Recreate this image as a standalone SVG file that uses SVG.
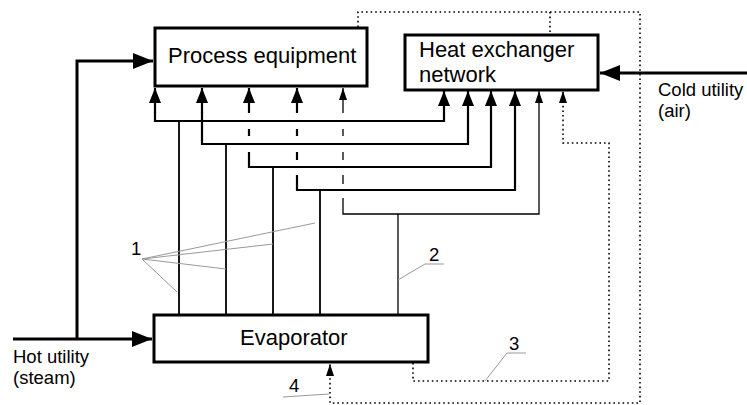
<svg xmlns="http://www.w3.org/2000/svg" width="747" height="405" viewBox="0 0 747 405">
<style>
.box{fill:#fff;stroke:#000;stroke-width:3}
.lbl{font-family:"Liberation Sans",Arial,sans-serif;font-size:22px;fill:#000}
.sm{font-family:"Liberation Sans",Arial,sans-serif;font-size:18.5px;fill:#000}
.c{fill:none;stroke:#000;stroke-width:2.2}
.v{fill:none;stroke:#000;stroke-width:1.8}
.t{fill:none;stroke:#000;stroke-width:1.3}
.d{fill:none;stroke:#000;stroke-width:1.6;stroke-dasharray:1.6 3}
.u{fill:none;stroke:#000;stroke-width:3}
.ld{fill:none;stroke:#999;stroke-width:1}
</style>
<defs>
<marker id="big" markerUnits="userSpaceOnUse" viewBox="0 0 20 16" markerWidth="20" markerHeight="16" refX="20" refY="8" orient="auto"><path d="M0,0 L20,8 L0,16 z" fill="#000"/></marker>
<marker id="arr" markerUnits="userSpaceOnUse" viewBox="0 0 15 12" markerWidth="15" markerHeight="12" refX="15" refY="6" orient="auto"><path d="M0,0 L15,6 L0,12 z" fill="#000"/></marker>
<marker id="sml" markerUnits="userSpaceOnUse" viewBox="0 0 12 8" markerWidth="12" markerHeight="8" refX="12" refY="4" orient="auto"><path d="M0,0 L12,4 L0,8 z" fill="#000"/></marker>
</defs>
<g id="connectors">
<!-- utilities -->
<path class="u" d="M13,339 H152" marker-end="url(#big)"/>
<path class="u" d="M77,339 V61 H153" marker-end="url(#big)"/>
<path class="u" d="M747,73 H600" marker-end="url(#big)"/>
<!-- stream 1 -->
<path class="c" d="M155,113 V88" marker-end="url(#arr)"/>
<path class="c" d="M155,112 V121 H444 V91" marker-end="url(#arr)"/>
<path class="v" d="M179,121 V314"/>
<!-- stream 2 -->
<path class="c" d="M202,113 V88" marker-end="url(#arr)"/>
<path class="c" d="M202,112 V144 H468 V91" marker-end="url(#arr)"/>
<path class="v" d="M226,144 V314"/>
<!-- stream 3 -->
<path class="c" d="M249,113 V88" marker-end="url(#arr)"/>
<path class="c" d="M249,129 V136"/>
<path class="c" d="M249,152 V167 H491 V91" marker-end="url(#arr)"/>
<path class="v" d="M273,167 V314"/>
<!-- stream 4 -->
<path class="c" d="M297,113 V88" marker-end="url(#arr)"/>
<path class="c" d="M297,129 V136 M297,152 V160"/>
<path class="c" d="M297,175 V190 H515 V91" marker-end="url(#arr)"/>
<path class="v" d="M320,190 V314"/>
<!-- stream 5 (thin) -->
<path class="t" d="M343,113 V88" marker-end="url(#sml)"/>
<path class="t" d="M343,129 V136 M343,152 V160 M343,175 V184"/>
<path class="t" d="M343,198 V214 H539 V91" marker-end="url(#sml)"/>
<path class="t" d="M398,214 V314"/>
<!-- dotted returns -->
<path class="d" d="M358,27 V12 H640 V403 H330 V364" marker-end="url(#sml)"/>
<path class="d" d="M550,12 V34"/>
<path class="d" d="M413,363 V381 H609 V143 H563 V91" marker-end="url(#sml)"/>
<!-- leaders -->
<path class="ld" d="M142,259 L315,223 M142,259 L273,244 M142,259 L226,269 M142,259 L177,292"/>
<path class="ld" d="M398,280 L425,264 H444"/>
<path class="ld" d="M485,381 L507,353 H526"/>
<path class="ld" d="M283,397 L329,394"/>
</g>
<g id="process-equipment">
<rect class="box" x="155" y="28" width="212" height="58"/>
<text class="lbl" x="168" y="63">Process equipment</text>
</g>
<g id="heat-exchanger-network">
<rect class="box" x="405" y="35" width="193" height="55"/>
<text class="lbl" x="419" y="57">Heat exchanger</text>
<text class="lbl" x="419" y="82">network</text>
</g>
<g id="evaporator">
<rect class="box" x="154" y="315" width="274" height="47"/>
<text class="lbl" x="240" y="345">Evaporator</text>
</g>
<g id="labels">
<text class="sm" x="658" y="96">Cold utility</text>
<text class="sm" x="658" y="117">(air)</text>
<text class="sm" x="13" y="363">Hot utility</text>
<text class="sm" x="13" y="384">(steam)</text>
<text class="sm" x="131" y="255">1</text>
<text class="sm" x="429" y="261">2</text>
<text class="sm" x="509" y="350">3</text>
<text class="sm" x="289" y="392">4</text>
</g>
</svg>
